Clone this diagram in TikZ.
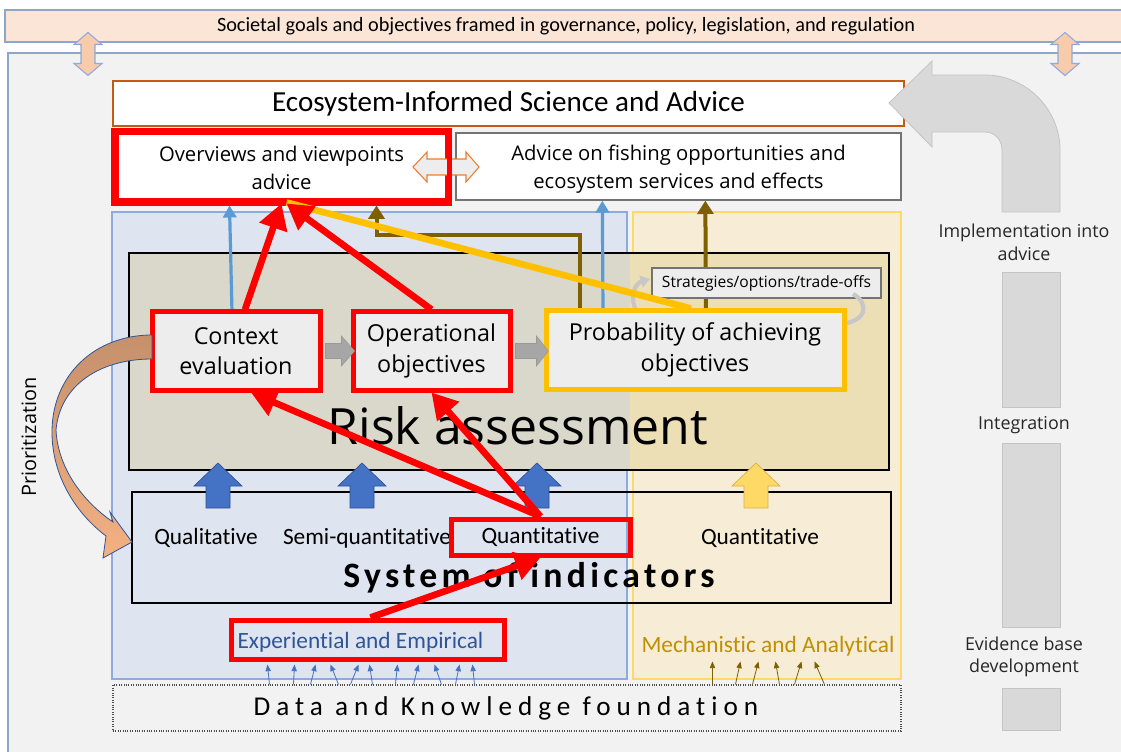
\documentclass[tikz,border=0pt]{standalone}
\usepackage{fontspec}
\setmainfont{Open Sans}
\newfontfamily\calib[Ligatures=CommonOff]{Carlito}
\newfontfamily\calibsys[LetterSpace=12,Ligatures=CommonOff]{Carlito}
\newfontfamily\calibdata[LetterSpace=22,Ligatures=CommonOff]{Carlito}
\usetikzlibrary{arrows.meta,fit,calc}

\definecolor{panel}{HTML}{F2F2F2}
\definecolor{panelline}{HTML}{8EA6C9}
\definecolor{peach}{HTML}{FBE5D6}
\definecolor{peachmid}{HTML}{F8CBAD}
\definecolor{peachdark}{HTML}{F4B183}
\definecolor{tan}{HTML}{C5906B}
\definecolor{bluereg}{HTML}{DEE4F0}
\definecolor{bluerline}{HTML}{8FAADC}
\definecolor{yelreg}{HTML}{F7EDD7}
\definecolor{yelline}{HTML}{FFD966}
\definecolor{riskL}{HTML}{DAD7CB}
\definecolor{riskR}{HTML}{EDDFB5}
\definecolor{boxfill}{HTML}{EDEDED}
\definecolor{redc}{HTML}{FF0000}
\definecolor{gold}{HTML}{FFC000}
\definecolor{brownc}{HTML}{7F6000}
\definecolor{bluearr}{HTML}{5B9BD5}
\definecolor{blueblock}{HTML}{4472C4}
\definecolor{blueedge}{HTML}{2F528F}
\definecolor{orangec}{HTML}{ED7D31}
\definecolor{ecoline}{HTML}{C55A11}
\definecolor{greyarr}{HTML}{D9D9D9}
\definecolor{greyedge}{HTML}{C4C4C4}
\definecolor{empblue}{HTML}{2F5597}
\definecolor{mechgold}{HTML}{BF9000}

\tikzset{
  plainbox/.style={draw, inner sep=0pt},
  redbox/.style={draw=redc, line width=3.75pt, fill=boxfill, inner sep=0pt},
  label/.style={align=center, inner sep=0pt},
  stagefont/.style={font=\fontsize{17.5}{23}\selectfont},
  calfont/.style={font=\calib\fontsize{17.5}{20}\selectfont},
  redarrow/.style={draw=redc, line width=5pt, -{Triangle[length=19pt,width=21pt]}},
  thinblue/.style={draw=bluearr, line width=2.4pt, -{Triangle[length=9pt,width=10pt]}},
  brownarrow/.style={draw=brownc, line width=3pt, -{Triangle[length=10pt,width=12pt]}},
  greyblock/.style={fill=black!35, draw=black!40, line width=0.4pt},
  upblock/.style={fill=blueblock, draw=blueedge, line width=0.5pt},
  tinyblue/.style={draw=blueblock, line width=0.6pt, -{Triangle[length=5pt,width=4pt]}},
  tinybrown/.style={draw=brownc, line width=0.6pt, -{Triangle[length=5pt,width=4pt]}},
  cycarrow/.style={draw=black!22, line width=3.2pt, -{Triangle[length=7pt,width=9pt]}},
  sidelabel/.style={font=\fontsize{13.4}{17}\selectfont, text=black!85, align=center},
  updown/.pic={
    \path[draw=bluerline, fill=peachmid, line width=0.8pt]
      (0,-21.5) -- (14,-9.5) -- (7,-9.5) -- (7,9.5) -- (14,9.5) -- (0,21.5)
      -- (-14,9.5) -- (-7,9.5) -- (-7,-9.5) -- (-14,-9.5) -- cycle;},
  upbox/.pic={
    \path[pic actions]
      (0,0) -- (24,23) -- (12,23) -- (12,45) -- (-12,45) -- (-12,23) -- (-24,23) -- cycle;}
}

\begin{document}
\begin{tikzpicture}[x=0.75pt,y=-0.75pt]
\useasboundingbox (0,0) rectangle (1121,752);
\fill[white] (0,0) rectangle (1121,752);

% outer panel and the governance band
\path[fill=panel, draw=panelline, line width=0.8pt] (8,53) rectangle (1130,760);
\node[fill=peach, draw=panelline, line width=0.8pt, inner sep=0pt, fit={(5,10) (1130,42)}] (gov) {};
\node[label, font=\calib\fontsize{15.2}{18}\selectfont] (govtxt) at (566,26)
  {Societal goals and objectives framed in governance, policy, legislation, and regulation};
\pic at (88,54) {updown};
\pic at (1065,54) {updown};

% science and advice boxes
\node[plainbox, draw=ecoline, fill=white, line width=0.8pt, fit={(113,81) (904,126)}] (eco) {};
\node[label, font=\calib\fontsize{21.8}{26}\selectfont] (ecotxt) at (eco.center) {Ecosystem-Informed Science and Advice};
\node[plainbox, draw=black!55, fill=white, line width=1pt, fit={(456,133) (901,200)}] (adv) {};
\node[label, font=\fontsize{15.2}{21}\selectfont] (advtxt) at ($(adv.center)+(0,3)$)
  {Advice on fishing opportunities and\\ecosystem services and effects};
\node[redbox, fill=white, fit={(116,133) (447,201)}] (ov) {};
\node[label, font=\fontsize{15.2}{21}\selectfont] (ovtxt) at ($(ov.center)+(0,1)$)
  {Overviews and viewpoints\\advice};
\path[fill=boxfill, draw=orangec, line width=0.8pt]
  (413,167) -- ++(14,-15) -- ++(0,7) -- ++(39,0) -- ++(0,-7) -- ++(13,15)
  -- ++(-13,15) -- ++(0,-7) -- ++(-39,0) -- ++(0,7) -- cycle;
\draw[draw=redc, line width=3.75pt] (ov.south west) rectangle (ov.north east);

% evidence regions
\path[fill=bluereg, draw=bluerline, line width=0.8pt] (112,212) rectangle (627,679);
\path[fill=yelreg, draw=yelline, line width=0.8pt] (633,212) rectangle (901,679);

% risk assessment block
\fill[riskL] (129,253) rectangle (630,470);
\fill[riskR] (630,253) rectangle (889,470);
\node[plainbox, line width=1pt, fit={(129,253) (889,470)}] (risk) {};
\node[label, font=\fontsize{37.5}{40}\selectfont] (risktxt) at (518,426) {Risk assessment};

% advice pathways out of the risk assessment
\coordinate (ctxtop) at (236,312);
\coordinate (probtop) at (695,311);
\draw[thinblue] ($(ctxtop)+(-4,0)$) -- ($(ov.south west)+(116,2)$);
\draw[thinblue] ($(probtop)+(-92,0)$) -- ($(adv.south west)+(147,0)$);
\draw[brownarrow] ($(probtop)+(-115,0)$) -- ++(0,-76) -| ($(ov.south west)+(263,2)$);
\draw[brownarrow] ($(probtop)+(11,0)$) -- ($(adv.south west)+(250,0)$);

\node[plainbox, draw=black!55, fill=boxfill, line width=0.8pt, fit={(652,268) (881,298)}] (strat) {};
\node[label, font=\fontsize{11.7}{14}\selectfont] (strattxt) at (strat.center) {Strategies/options/trade-offs};
\draw[cycarrow] (637,312) .. controls (628,296) and (636,283) .. (650,279);
\draw[cycarrow] (853,294) .. controls (868,302) and (870,322) .. (829,325);

% the three assessment stages
\node[redbox, fit={(152,312) (320,390)}] (ctx) {};
\node[label, stagefont] (ctxtxt) at (ctx.center) {Context\\evaluation};
\node[redbox, fit={(353,312) (510,390)}] (op) {};
\node[label, stagefont] (optxt) at (op.center) {Operational\\objectives};
\node[redbox, draw=gold, fit={(546,311) (844,389)}] (prob) {};
\node[label, stagefont] (probtxt) at (prob.center) {Probability of achieving\\objectives};

% flow between the stages
\path[greyblock] ($(ctx.east)+(3,-7.5)$) -- ++(16,0) -- ++(0,-7.5) -- ++(13,15)
  -- ++(-13,15) -- ++(0,-7.5) -- ++(-16,0) -- cycle;
\path[greyblock] ($(op.east)+(3,-7.5)$) -- ++(21,0) -- ++(0,-7.5) -- ++(12,15)
  -- ++(-12,15) -- ++(0,-7.5) -- ++(-21,0) -- cycle;

% system of indicators
\node[plainbox, line width=1pt, fit={(132,492) (891,603)}] (sys) {};
\pic[upblock] at (218,463) {upbox};
\pic[upblock] at (362,463) {upbox};
\pic[upblock] at (537,463) {upbox};
\pic[fill=yelline, draw=mechgold!70, line width=0.5pt] at (756,463) {upbox};

\node[label, calfont] (qual) at (206,538) {Qualitative};
\node[label, calfont] (semi) at (367,538) {Semi-quantitative};
\node[redbox, fill=none, fit={(451,519) (630,555)}] (qt) {};
\node[label, calfont] (qttxt) at (qt.center) {Quantitative};
\node[label, calfont] (qtr) at (760,538) {Quantitative};
\node[label, font=\calibsys\bfseries\fontsize{26.8}{30}\selectfont] (systxt) at (529,578) {System of indicators};

% knowledge sources
\node[redbox, fill=none, fit={(231,620) (504,659)}] (exp) {};
\node[label, calfont, text=empblue] (exptxt) at ($(exp.center)+(-7,3)$) {Experiential and Empirical};
\node[label, calfont, text=mechgold] (mech) at (768,646) {Mechanistic and Analytical};

\node[draw=black!70, densely dotted, fill=panel, line width=0.8pt, inner sep=0pt,
      fit={(113,685) (901,731)}] (data) {};
\node[label, font=\calibdata\fontsize{20.4}{24}\selectfont] (datatxt) at (506,708) {Data and Knowledge foundation};

\foreach \a/\b in {270/270, 294/297, 311/318, 339/333, 351/361, 373/372, 396/400, 414/421, 442/437, 456/462, 475/475}
  \draw[tinyblue] ($(data.north west)+(\a-113,0)$) -- ($(exp.south west)+(\b-231,3)$);
\foreach \a/\b in {713/713, 736/741, 753/759, 780/776, 795/802, 825/815}
  \draw[tinybrown] ($(data.north west)+(\a-113,0)$) -- ($(data.north west)+(\b-113,-23)$);

% integration pathway on the right
\path[fill=greyarr, draw=greyedge, line width=0.6pt]
  (889,103) -- (932,61) -- (932,75) -- (985,75)
  .. controls (1026,75) and (1060,109) .. (1060,150) -- (1060,212) -- (1002,212) -- (1002,150)
  .. controls (1002,140) and (995,132) .. (985,132) -- (932,132) -- (932,147) -- cycle;
\path[fill=greyarr, draw=greyedge, line width=0.6pt] (1002,272) rectangle (1060,407);
\path[fill=greyarr, draw=greyedge, line width=0.6pt] (1002,443) rectangle (1060,627);
\path[fill=greyarr, draw=greyedge, line width=0.6pt] (1002,688) rectangle (1060,730);
\node[sidelabel] (impl) at (1024,242) {Implementation into\\advice};
\node[sidelabel] (integ) at (1024,425) {Integration};
\node[sidelabel] (evid) at (1024,657) {Evidence base\\development};

% prioritization loop
\path[draw=empblue, line width=0.6pt, top color=tan, bottom color=peachdark]
  (152,335) .. controls (95,335) and (52,375) .. (52,432)
  .. controls (52,478) and (78,515) .. (106,536)
  -- (103,558) -- (132,542) -- (110,512) -- (113,522)
  .. controls (85,503) and (58,470) .. (56,430)
  .. controls (60,385) and (100,359) .. (152,359) -- cycle;
\node[rotate=90, font=\fontsize{14.9}{17}\selectfont] (prio) at (29,437) {Prioritization};

% highlighted links
\draw[draw=gold, line width=5pt] ($(prob.north)+(-4,0)$) -- ($(ov.south)+(5,-1)$);
\draw[redarrow] ($(ctx.north)+(9,0)$) -- (ov.south);
\draw[redarrow] (op.north) -- ($(ov.south)+(5,0)$);
\draw[redarrow] (qt.north) -- ($(ctx.south)+(15,0)$);
\draw[redarrow] (qt.north) -- (op.south);
\draw[redarrow] ($(exp.north)+(3,0)$) -- (qt.south);
\end{tikzpicture}
\end{document}
